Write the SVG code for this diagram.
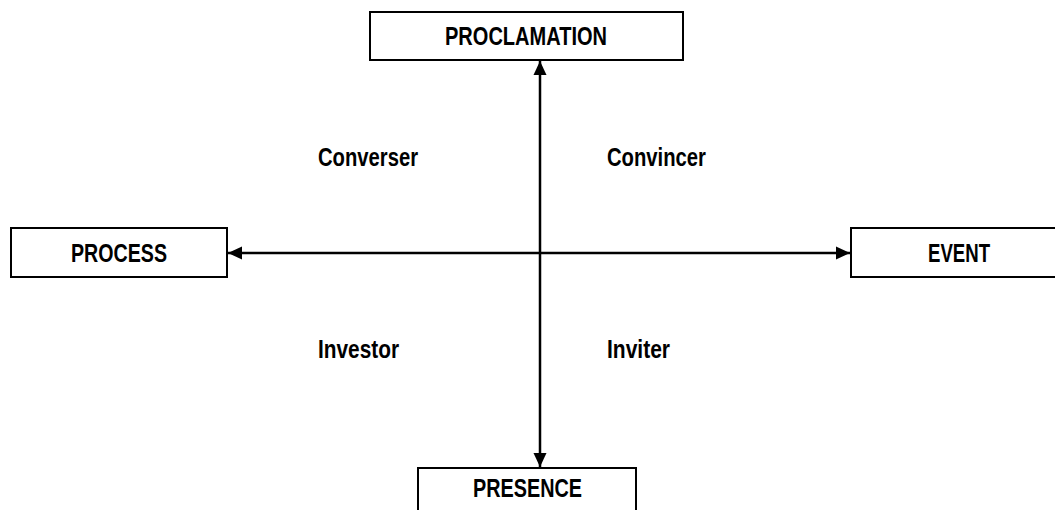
<svg xmlns="http://www.w3.org/2000/svg" width="1055" height="510" viewBox="0 0 1055 510">
<style>
.box{fill:#fff;stroke:#000;stroke-width:2}
.t{font-family:"Liberation Sans Narrow","Liberation Sans",Arial,sans-serif;font-weight:bold;font-size:25px;fill:#000}
.c{stroke:#000;stroke-width:2.5;fill:none}
</style>
<defs>
<marker id="ah" markerUnits="userSpaceOnUse" markerWidth="14" markerHeight="14" viewBox="0 0 14 14" refX="14" refY="7" orient="auto-start-reverse">
<path d="M0,0.5 L14,7 L0,13.5 Z" fill="#000"/>
</marker>
</defs>
<rect width="1055" height="510" fill="#fff"/>
<g id="connectors">
<line class="c" x1="540" y1="61" x2="540" y2="467" marker-start="url(#ah)" marker-end="url(#ah)"/>
<line class="c" x1="228" y1="253" x2="850" y2="253" marker-start="url(#ah)" marker-end="url(#ah)"/>
</g>
<g id="proclamation">
<rect class="box" x="370" y="12" width="313" height="48"/>
<text class="t" x="445" y="45" textLength="162" lengthAdjust="spacingAndGlyphs">PROCLAMATION</text>
</g>
<g id="process">
<rect class="box" x="11" y="228" width="216" height="49"/>
<text class="t" x="71" y="262" textLength="96" lengthAdjust="spacingAndGlyphs">PROCESS</text>
</g>
<g id="event">
<rect class="box" x="851" y="228" width="215" height="49"/>
<text class="t" x="928" y="262" textLength="62" lengthAdjust="spacingAndGlyphs">EVENT</text>
</g>
<g id="presence">
<rect class="box" x="418" y="468" width="218" height="50"/>
<text class="t" x="473" y="497" textLength="109" lengthAdjust="spacingAndGlyphs">PRESENCE</text>
</g>
<g id="labels">
<text class="t" x="318" y="166" textLength="100" lengthAdjust="spacingAndGlyphs">Converser</text>
<text class="t" x="607" y="166" textLength="99" lengthAdjust="spacingAndGlyphs">Convincer</text>
<text class="t" x="318" y="358" textLength="81" lengthAdjust="spacingAndGlyphs">Investor</text>
<text class="t" x="607" y="358" textLength="63" lengthAdjust="spacingAndGlyphs">Inviter</text>
</g>
</svg>
